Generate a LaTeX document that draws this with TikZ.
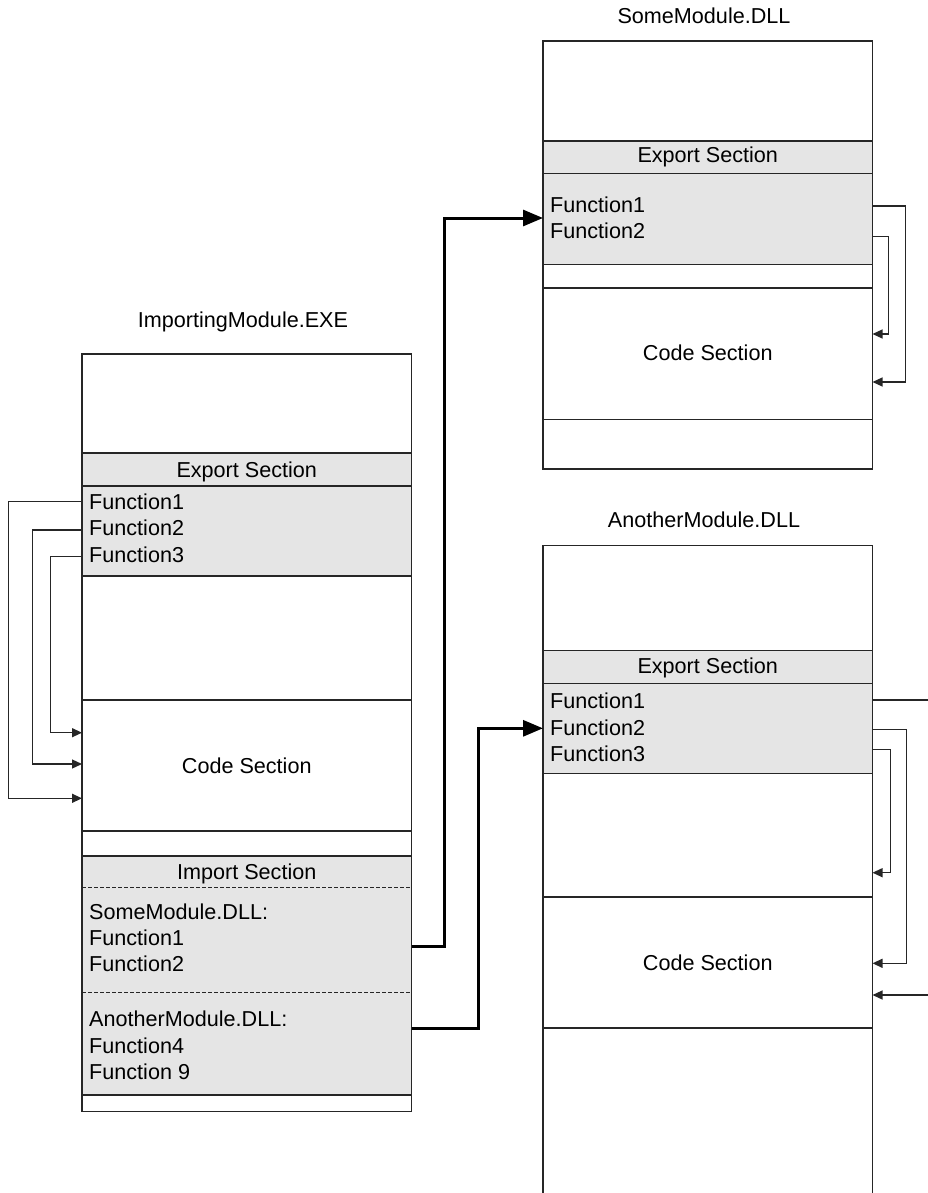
\documentclass[tikz,border=0pt]{standalone}
\usepackage{fontspec}
\setmainfont{Liberation Sans}
\usetikzlibrary{arrows.meta,calc}
\definecolor{secfill}{HTML}{E5E5E5}
\definecolor{linec}{HTML}{262626}
\begin{document}
\begin{tikzpicture}[x=1pt,y=-1pt,
  sec/.style={draw=linec,line width=1.3pt,inner sep=0pt,outer sep=0pt,anchor=north west,minimum width=329.5pt},
  gsec/.style={sec,fill=secfill},
  lbl/.style={inner sep=0pt,anchor=base west,font=\fontsize{21.6}{26}\selectfont},
  clbl/.style={lbl,anchor=base},
  conn/.style={draw=linec,line width=1.3pt,-{Triangle[length=10pt,width=9pt]}},
  plainconn/.style={draw=linec,line width=1.3pt},
  bold/.style={draw=black,line width=3pt,-{Triangle[length=20pt,width=16pt]}},
  dsh/.style={draw=linec,line width=1pt,dash pattern=on 4pt off 2pt}]
\useasboundingbox (0,0) rectangle (927,1193);

% ImportingModule.EXE
\node[clbl] (exeTitle) at (243,327.7) {ImportingModule.EXE};
\node[sec,minimum height=99pt] (exeTop) at (82,354) {};
\node[gsec,minimum height=33pt] (exeExpH) at (82,453) {};
\node[gsec,minimum height=90pt] (exeExp) at (82,486) {};
\node[sec,minimum height=124pt] (exeMid) at (82,576) {};
\node[sec,minimum height=131pt] (exeCode) at (82,700) {};
\node[sec,minimum height=25pt] (exeGap) at (82,831) {};
\node[gsec,minimum height=239pt] (exeImp) at (82,856) {};
\node[sec,minimum height=16.5pt] (exeBot) at (82,1095) {};
\draw[dsh] ($(exeImp.north west)+(0,31.5)$) -- ($(exeImp.north east)+(0,31.5)$);
\draw[dsh] ($(exeImp.north west)+(0,136)$) -- ($(exeImp.north east)+(0,136)$);

\node[clbl] (exeExpT) at (246.75,477.5) {Export Section};
\node[lbl] (exeF1) at (89,509) {Function1};
\node[lbl] (exeF2) at (89,535.5) {Function2};
\node[lbl] (exeF3) at (89,562) {Function3};
\node[clbl] (exeCodeT) at (246.75,773) {Code Section};
\node[clbl] (exeImpT) at (246.75,879.5) {Import Section};
\node[lbl] (exeI1) at (89,919) {SomeModule.DLL:};
\node[lbl] (exeI2) at (89,945) {Function1};
\node[lbl] (exeI3) at (89,971) {Function2};
\node[lbl] (exeI4) at (89,1026.7) {AnotherModule.DLL:};
\node[lbl] (exeI5) at (89,1053) {Function4};
\node[lbl] (exeI6) at (89,1079) {Function 9};

% SomeModule.DLL
\node[clbl] (smTitle) at (704,23.3) {SomeModule.DLL};
\node[sec,minimum height=100pt] (smTop) at (543,41) {};
\node[gsec,minimum height=32.5pt] (smExpH) at (543,141) {};
\node[gsec,minimum height=90.8pt] (smExp) at (543,173.5) {};
\node[sec,minimum height=23.7pt] (smGap) at (543,264.3) {};
\node[sec,minimum height=131.3pt] (smCode) at (543,288) {};
\node[sec,minimum height=49.7pt] (smBot) at (543,419.3) {};
\node[clbl] (smExpT) at (707.75,163) {Export Section};
\node[lbl] (smF1) at (550,212) {Function1};
\node[lbl] (smF2) at (550,238) {Function2};
\node[clbl] (smCodeT) at (707.75,360) {Code Section};

% AnotherModule.DLL
\node[clbl] (amTitle) at (704,527) {AnotherModule.DLL};
\node[sec,minimum height=105.2pt] (amTop) at (543,545.5) {};
\node[gsec,minimum height=32.6pt] (amExpH) at (543,650.7) {};
\node[gsec,minimum height=90.4pt] (amExp) at (543,683.3) {};
\node[sec,minimum height=123.3pt] (amMid) at (543,773.7) {};
\node[sec,minimum height=131pt] (amCode) at (543,897) {};
\node[sec,minimum height=166pt] (amBot) at (543,1028) {};
\node[clbl] (amExpT) at (707.75,673) {Export Section};
\node[lbl] (amF1) at (550,708.3) {Function1};
\node[lbl] (amF2) at (550,735) {Function2};
\node[lbl] (amF3) at (550,761) {Function3};
\node[clbl] (amCodeT) at (707.75,970) {Code Section};

% internal connectors, ImportingModule
\draw[conn] ($(exeExp.north west)+(0,15.7)$) -- ++(-73.7,0) |- ($(exeCode.north west)+(0,98.3)$);
\draw[conn] ($(exeExp.north west)+(0,44)$) -- ++(-49.3,0) |- ($(exeCode.north west)+(0,64)$);
\draw[conn] ($(exeExp.north west)+(0,70.7)$) -- ++(-31.3,0) |- ($(exeCode.north west)+(0,32.7)$);

% internal connectors, SomeModule
\draw[conn] ($(smExp.north east)+(0,32.5)$) -- ++(33.3,0) |- ($(smCode.north east)+(0,94)$);
\draw[conn] ($(smExp.north east)+(0,63.2)$) -- ++(16.3,0) |- ($(smCode.north east)+(0,46)$);

% internal connectors, AnotherModule
\coordinate (amOut) at (935,700);
\coordinate (amIn) at (935,995);
\draw[plainconn] ($(amExp.north east)+(0,16.7)$) -- (amOut);
\draw[conn] ($(amExp.north east)+(0,46)$) -- ++(34,0) |- ($(amCode.north east)+(0,66.3)$);
\draw[conn] ($(amExp.north east)+(0,66)$) -- ++(18,0) |- ($(amMid.north east)+(0,99)$);
\draw[conn] (amIn) -- ($(amCode.north east)+(0,98)$);

% import links
\draw[bold] ($(exeImp.north east)+(0,90)$) -- ++(32.5,0) |- ($(smExp.north west)+(0,44.5)$);
\draw[bold] ($(exeImp.north east)+(0,172.3)$) -- ++(66.5,0) |- ($(amExp.north west)+(0,45)$);
\end{tikzpicture}
\end{document}
